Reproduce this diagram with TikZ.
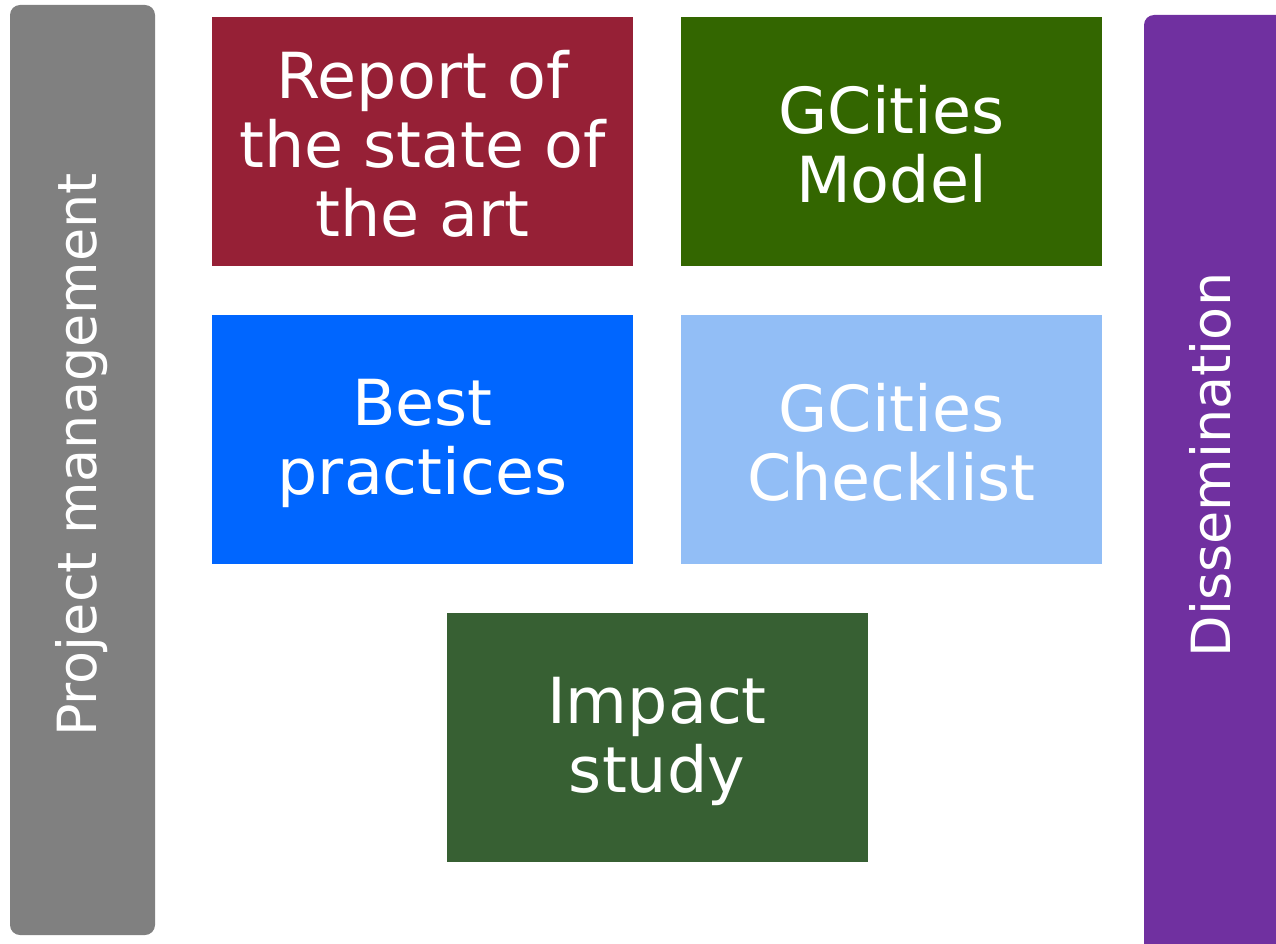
\documentclass[tikz,border=0pt]{standalone}
\usepackage{fontspec}
\setmainfont{DejaVu Sans}
\definecolor{pmgray}{HTML}{808080}
\definecolor{dispurple}{HTML}{7030A0}
\definecolor{reportred}{HTML}{962036}
\definecolor{modelgreen}{HTML}{336600}
\definecolor{bestblue}{HTML}{0066FF}
\definecolor{checkblue}{HTML}{92BEF6}
\definecolor{impactgreen}{HTML}{376033}
\tikzset{
  wpbox/.style={draw=none, minimum width=421pt, minimum height=249pt, inner sep=0pt,
    text=white, align=center, font=\fontsize{63.5}{69}\selectfont},
  wptext/.style={text=white, align=center, font=\fontsize{63.5}{69}\selectfont, inner sep=0pt},
  sidelabel/.style={text=white, rotate=90, font=\fontsize{54}{60}\selectfont, inner sep=0pt}
}
\begin{document}
\begin{tikzpicture}[x=1pt,y=-1pt]
\useasboundingbox (0,0) rectangle (1276,944);
\clip (0,0) rectangle (1276,944);
\fill[pmgray, rounded corners=10pt] (10,5) rectangle (155,935);
\fill[dispurple, rounded corners=10pt] (1144,15) rectangle (1300,970);
\node[sidelabel] (pm) at (82,455) {Project management};
\node[sidelabel] (dis) at (1210,465) {Dissemination};
\node[wpbox, fill=reportred] (report) at (422.5,141.5) {};
\node[wptext] (reportt) at (422.5,143.5) {Report of\\the state of\\the art};
\node[wpbox, fill=modelgreen] (model) at (891.5,141.5) {};
\node[wptext] (modelt) at (891.5,144) {GCities\\Model};
\node[wpbox, fill=bestblue] (best) at (422.5,439.5) {};
\node[wptext] (bestt) at (422.5,443) {Best\\practices};
\node[wpbox, fill=checkblue] (check) at (891.5,439.5) {};
\node[wptext] (checkt) at (891.5,442) {GCities\\Checklist};
\node[wpbox, fill=impactgreen] (impact) at (657,737.5) {};
\node[wptext] (impactt) at (657,741) {Impact\\study};
\end{tikzpicture}
\end{document}
